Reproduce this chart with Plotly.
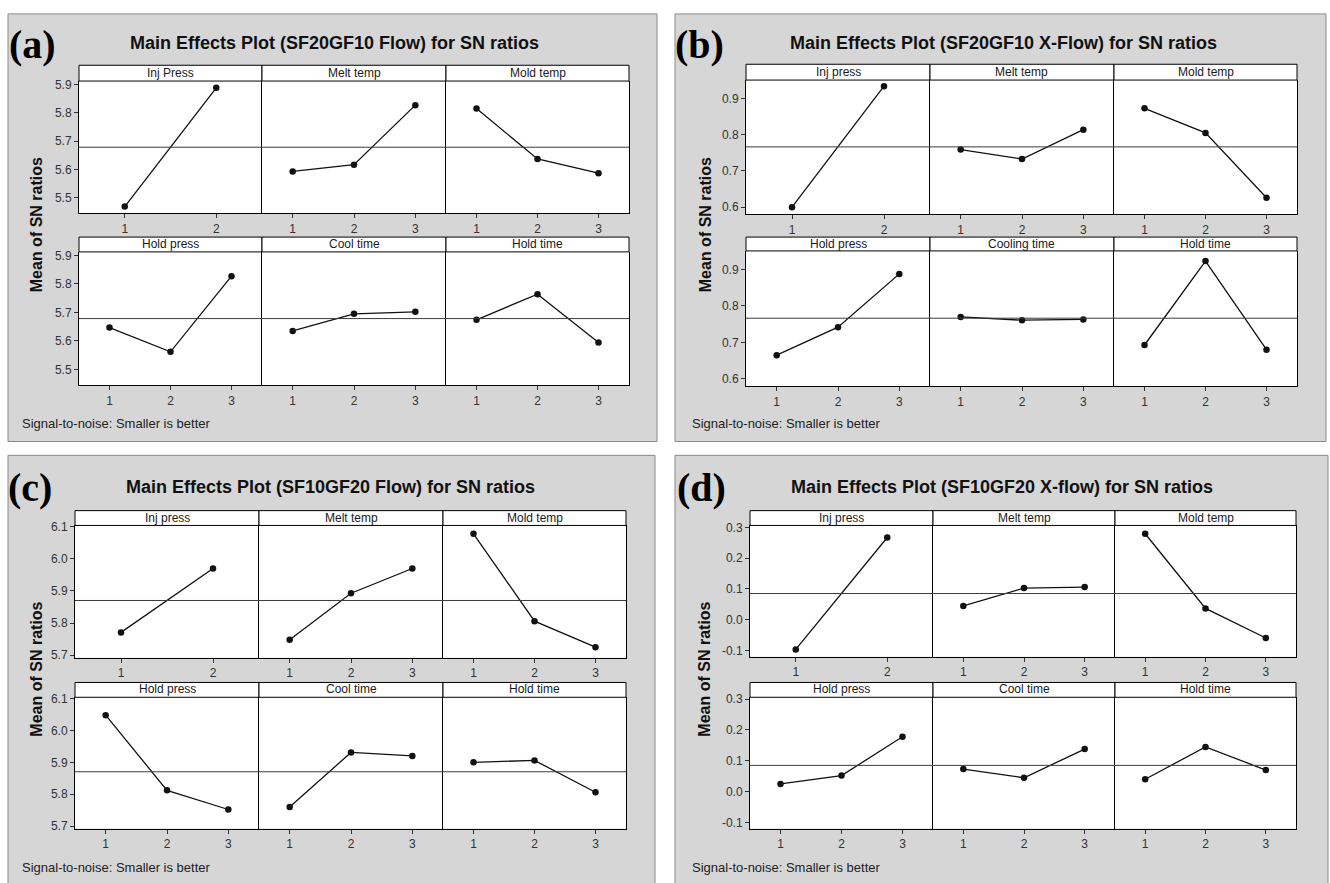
import numpy as np
import plotly.graph_objects as go

W, H = 1330, 883

# ---------------- data ----------------
levels_2 = [1, 2]
levels_3 = [1, 2, 3]

a_title = "Main Effects Plot (SF20GF10 Flow) for SN ratios"
a_factors = ["Inj Press", "Melt temp", "Mold temp", "Hold press", "Cool time", "Hold time"]
a_inj = [5.469, 5.888]
a_melt = [5.593, 5.617, 5.827]
a_mold = [5.815, 5.637, 5.587]
a_holdp = [5.647, 5.562, 5.827]
a_cool = [5.635, 5.695, 5.702]
a_holdt = [5.674, 5.764, 5.595]
a_yticks = [5.5, 5.6, 5.7, 5.8, 5.9]
a_yticktext = ["5.5", "5.6", "5.7", "5.8", "5.9"]

b_title = "Main Effects Plot (SF20GF10 X-Flow) for SN ratios"
b_factors = ["Inj press", "Melt temp", "Mold temp", "Hold press", "Cooling time", "Hold time"]
b_inj = [0.600, 0.934]
b_melt = [0.759, 0.733, 0.814]
b_mold = [0.873, 0.805, 0.626]
b_holdp = [0.665, 0.742, 0.888]
b_cool = [0.770, 0.761, 0.763]
b_holdt = [0.693, 0.923, 0.680]
b_yticks = [0.6, 0.7, 0.8, 0.9]
b_yticktext = ["0.6", "0.7", "0.8", "0.9"]

c_title = "Main Effects Plot (SF10GF20 Flow) for SN ratios"
c_factors = ["Inj press", "Melt temp", "Mold temp", "Hold press", "Cool time", "Hold time"]
c_inj = [5.771, 5.970]
c_melt = [5.748, 5.893, 5.970]
c_mold = [6.078, 5.806, 5.725]
c_holdp = [6.048, 5.812, 5.752]
c_cool = [5.760, 5.931, 5.920]
c_holdt = [5.900, 5.906, 5.806]
c_yticks = [5.7, 5.8, 5.9, 6.0, 6.1]
c_yticktext = ["5.7", "5.8", "5.9", "6.0", "6.1"]

d_title = "Main Effects Plot (SF10GF20 X-flow) for SN ratios"
d_factors = ["Inj press", "Melt temp", "Mold temp", "Hold press", "Cool time", "Hold time"]
d_inj = [-0.096, 0.267]
d_melt = [0.045, 0.103, 0.106]
d_mold = [0.279, 0.037, -0.059]
d_holdp = [0.025, 0.052, 0.178]
d_cool = [0.073, 0.045, 0.138]
d_holdt = [0.040, 0.145, 0.070]
d_yticks = [-0.1, 0.0, 0.1, 0.2, 0.3]
d_yticktext = ["-0.1", "0.0", "0.1", "0.2", "0.3"]

note_text = "Signal-to-noise: Smaller is better"
ytitle_text = "Mean of SN ratios"

# ---------------- layout geometry (pixels) ----------------
panels = [
    dict(tag="(a)", title=a_title, factors=a_factors,
         values=[a_inj, a_melt, a_mold, a_holdp, a_cool, a_holdt],
         yticks=a_yticks, yticktext=a_yticktext, yrange=[5.445, 5.912],
         frame=(8, 8, 657, 441), cols=(79, 262, 446, 629),
         rows=((60, 76, 210), (234, 249, 384)),
         tag_xy=(32, 39), title_xy=(334, 37), ytitle_xy=(36, 222), note_xy=(20, 423)),
    dict(tag="(b)", title=b_title, factors=b_factors,
         values=[b_inj, b_melt, b_mold, b_holdp, b_cool, b_holdt],
         yticks=b_yticks, yticktext=b_yticktext, yrange=[0.580, 0.951],
         frame=(675, 8, 1326, 441), cols=(746, 930, 1114, 1297),
         rows=((59, 75, 211), (234, 248, 385)),
         tag_xy=(699, 39), title_xy=(1003, 37), ytitle_xy=(705, 222), note_xy=(690, 423)),
    dict(tag="(c)", title=c_title, factors=c_factors,
         values=[c_inj, c_melt, c_mold, c_holdp, c_cool, c_holdt],
         yticks=c_yticks, yticktext=c_yticktext, yrange=[5.692, 6.104],
         frame=(8, 455, 655, 895), cols=(75, 259, 443, 626),
         rows=((511, 526, 660), (685, 700, 833)),
         tag_xy=(30, 488), title_xy=(330, 487), ytitle_xy=(37, 672), note_xy=(20, 872)),
    dict(tag="(d)", title=d_title, factors=d_factors,
         values=[d_inj, d_melt, d_mold, d_holdp, d_cool, d_holdt],
         yticks=d_yticks, yticktext=d_yticktext, yrange=[-0.120, 0.306],
         frame=(675, 455, 1328, 895), cols=(750, 933, 1115, 1296),
         rows=((511, 526, 659), (685, 700, 833)),
         tag_xy=(701, 488), title_xy=(1002, 487), ytitle_xy=(705, 672), note_xy=(690, 872)),
]

SANS = "Liberation Sans, Arial, sans-serif"
SERIF = "Liberation Serif, Times New Roman, serif"


def fx(px):
    return px / W


def fy(py):
    return 1 - py / H


fig = go.Figure()
layout = dict(
    width=W, height=H,
    margin=dict(l=0, r=0, t=0, b=0),
    paper_bgcolor="white",
    plot_bgcolor="rgba(0,0,0,0)",
    showlegend=False,
)
shapes = []
annotations = []

n = 0
for p in panels:
    x0, y0, x1, y1 = p["frame"]
    shapes.append(dict(type="rect", xref="paper", yref="paper",
                       x0=fx(x0), x1=fx(x1), y0=fy(y1), y1=fy(y0),
                       fillcolor="#d6d6d6", line=dict(color="#8a8a8a", width=1),
                       layer="below"))
    grand_mean = float(np.mean([np.mean(v) for v in p["values"]]))
    cols = p["cols"]
    for k, vals in enumerate(p["values"]):
        r, c = divmod(k, 3)
        n += 1
        xs = "" if n == 1 else str(n)
        stop, sline, bottom = p["rows"][r]
        lv = levels_2 if len(vals) == 2 else levels_3
        # data area background
        shapes.append(dict(type="rect", xref="paper", yref="paper",
                           x0=fx(cols[c]), x1=fx(cols[c + 1]),
                           y0=fy(bottom), y1=fy(sline),
                           fillcolor="white", line=dict(width=0), layer="below"))
        # strip
        shapes.append(dict(type="rect", xref="paper", yref="paper",
                           x0=fx(cols[c]), x1=fx(cols[c + 1]),
                           y0=fy(sline), y1=fy(stop),
                           fillcolor="white", line=dict(color="black", width=1),
                           layer="below"))
        annotations.append(dict(xref="paper", yref="paper",
                                x=fx((cols[c] + cols[c + 1]) / 2),
                                y=fy((stop + sline) / 2 - 0.5),
                                text=p["factors"][k], showarrow=False,
                                font=dict(family=SANS, size=12, color="#1a1a1a"),
                                xanchor="center", yanchor="middle"))
        # reference (grand mean) line
        shapes.append(dict(type="line", xref="x" + xs + " domain", yref="y" + xs,
                           x0=0, x1=1, y0=grand_mean, y1=grand_mean,
                           line=dict(color="#3c3c3c", width=1), layer="above"))
        fig.add_trace(go.Scatter(
            x=lv, y=vals, mode="lines+markers",
            xaxis="x" + xs, yaxis="y" + xs,
            line=dict(color="#111111", width=1.3),
            marker=dict(color="#111111", size=6.5),
            hoverinfo="skip"))
        layout["xaxis" + xs] = dict(
            domain=[fx(cols[c]), fx(cols[c + 1])], anchor="y" + xs,
            range=[0.5, len(lv) + 0.5], tickvals=lv, ticktext=[str(v) for v in lv],
            ticks="outside", ticklen=4, tickcolor="#333", tickwidth=1,
            showline=True, linecolor="black", linewidth=1, mirror=False,
            showgrid=False, zeroline=False, fixedrange=True,
            tickfont=dict(family=SANS, size=12, color="#333"))
        ydict = dict(
            domain=[fy(bottom), fy(sline)], anchor="x" + xs,
            range=p["yrange"],
            showline=True, linecolor="black", linewidth=1, mirror=(c == 2),
            showgrid=False, zeroline=False, fixedrange=True)
        if c == 0:
            ydict.update(tickvals=p["yticks"], ticktext=p["yticktext"],
                         ticks="outside", ticklen=4, tickcolor="#333", tickwidth=1,
                         tickfont=dict(family=SANS, size=12, color="#333"))
        else:
            ydict.update(showticklabels=False, ticks="")
        layout["yaxis" + xs] = ydict

    # texts
    tx, ty = p["tag_xy"]
    annotations.append(dict(xref="paper", yref="paper", x=fx(tx), y=fy(ty),
                            text="<b>" + p["tag"] + "</b>", showarrow=False,
                            font=dict(family=SERIF, size=40, color="black"),
                            xanchor="center", yanchor="middle"))
    tx, ty = p["title_xy"]
    annotations.append(dict(xref="paper", yref="paper", x=fx(tx), y=fy(ty),
                            text="<b>" + p["title"] + "</b>", showarrow=False,
                            font=dict(family=SANS, size=18, color="#111"),
                            xanchor="center", yanchor="middle"))
    tx, ty = p["ytitle_xy"]
    annotations.append(dict(xref="paper", yref="paper", x=fx(tx), y=fy(ty),
                            text="<b>" + ytitle_text + "</b>", showarrow=False,
                            textangle=-90,
                            font=dict(family=SANS, size=16, color="#111"),
                            xanchor="center", yanchor="middle"))
    tx, ty = p["note_xy"]
    annotations.append(dict(xref="paper", yref="paper", x=fx(tx), y=fy(ty),
                            text=note_text, showarrow=False,
                            font=dict(family=SANS, size=13, color="#222"),
                            xanchor="left", yanchor="middle"))

layout["shapes"] = shapes
layout["annotations"] = annotations
fig.update_layout(**layout)
fig.write_html(
    "out.html",
    config={"displayModeBar": False, "staticPlot": True},
    post_script="document.body.style.margin='0';document.body.style.overflow='hidden';",
)
